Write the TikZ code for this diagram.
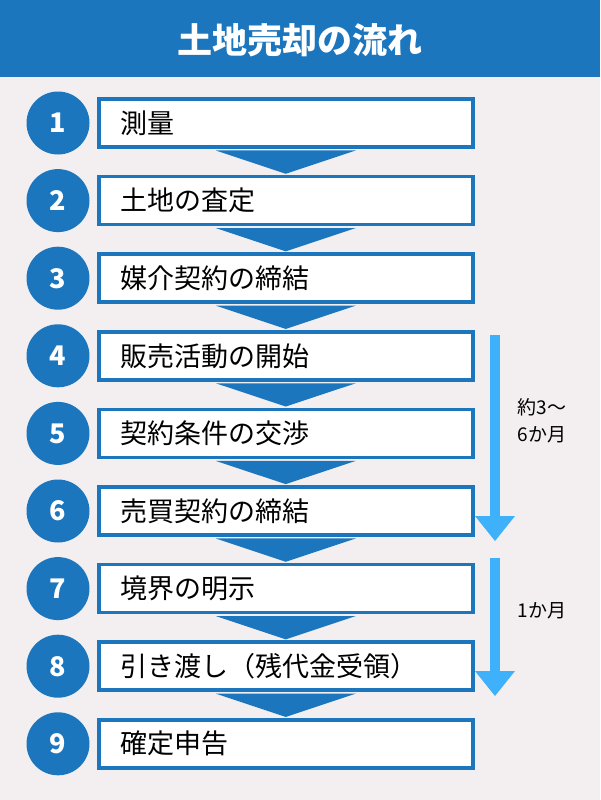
\documentclass[tikz,border=0pt]{standalone}
\usepackage{fontspec}
\newfontfamily\cjk{Noto Sans CJK JP}
\definecolor{bl}{HTML}{1C76BE}
\definecolor{bg}{HTML}{F3EEEF}
\definecolor{lb}{HTML}{3FB0FA}
\begin{document}
\begin{tikzpicture}[x=1pt,y=-1pt,
  stepbox/.style={draw=bl,line width=3.5pt,fill=white,minimum width=374pt,minimum height=48pt,anchor=west,inner sep=0pt},
  numc/.style={circle,fill=bl,minimum size=63pt,inner sep=0pt,text=white,font=\cjk\bfseries\fontsize{27}{27}\selectfont},
  lbl/.style={anchor=west,font=\cjk\fontsize{27}{30}\selectfont}]
\fill[bg] (0,0) rectangle (600,800);
\useasboundingbox (0,0) rectangle (600,800);
\fill[bl] (0,0) rectangle (600,77);
\node[text=white,font=\cjk\bfseries\fontsize{35}{35}\selectfont] (title) at (300,40) {土地売却の流れ};
\foreach \i/\t in {1/測量,2/土地の査定,3/媒介契約の締結,4/販売活動の開始,5/契約条件の交渉,6/売買契約の締結,7/境界の明示,8/引き渡し（残代金受領）,9/確定申告}{
  \pgfmathsetmacro\yy{123+77.6*(\i-1)}
  \node[numc] (n\i) at (58,\yy) {\i};
  \node[stepbox] (b\i) at (97,\yy) {};
  \node[lbl] (t\i) at (117,\yy) {\t};
}
\foreach \i in {1,...,8}{
  \fill[bl] ([xshift=-70pt,yshift=-1.7pt]b\i.south) -- ([xshift=70pt,yshift=-1.7pt]b\i.south) -- ([yshift=-25pt]b\i.south) -- cycle;
}
\coordinate (a1) at (495,335);
\coordinate (a2) at (495,541);
\coordinate (c1) at (495,558);
\coordinate (c2) at (495,696);
\fill[lb] ([xshift=-5pt]a1) rectangle ([xshift=5pt,yshift=25pt]a2);
\fill[lb] ([xshift=-20pt,yshift=25pt]a2) -- ([xshift=20pt,yshift=25pt]a2) -- (a2) -- cycle;
\fill[lb] ([xshift=-5pt]c1) rectangle ([xshift=5pt,yshift=25pt]c2);
\fill[lb] ([xshift=-20pt,yshift=25pt]c2) -- ([xshift=20pt,yshift=25pt]c2) -- (c2) -- cycle;
\node[font=\cjk\fontsize{19}{27}\selectfont,align=left] (L1) at (542,421) {約3〜\\6か月};
\node[font=\cjk\fontsize{19}{27}\selectfont] (L2) at (542,611) {1か月};
\end{tikzpicture}
\end{document}
